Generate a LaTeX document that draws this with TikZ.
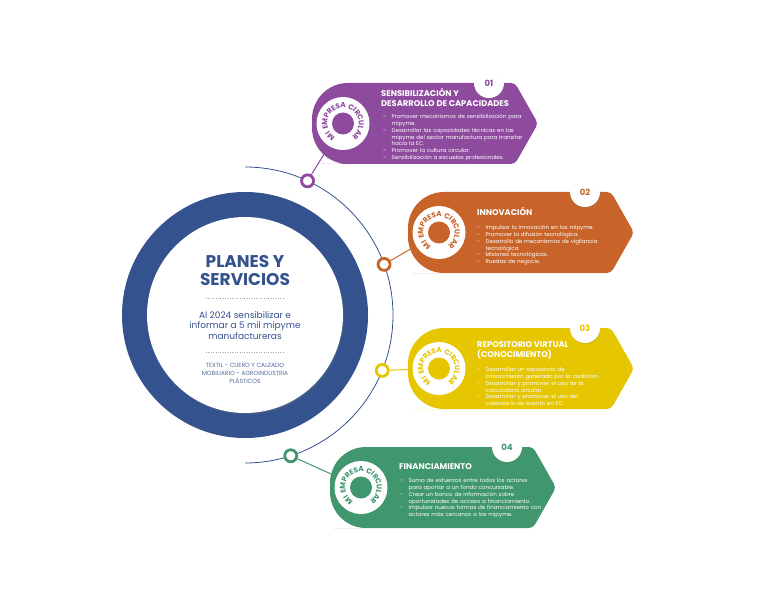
\documentclass[tikz,border=0pt]{standalone}
\usepackage{fontspec}
\setmainfont{Poppins}
\usetikzlibrary{calc,shadows}

\definecolor{planblue}{HTML}{34528E}
\definecolor{cardpurple}{HTML}{8E4B9E}
\definecolor{cardorange}{HTML}{C8642A}
\definecolor{cardyellow}{HTML}{E5C600}
\definecolor{cardgreen}{HTML}{40966E}

\newcommand{\bitem}[1]{\par\noindent\hangindent=8.5pt\hangafter=1\makebox[8.5pt][l]{-}#1\par}

\tikzset{
  ringdot/.style={circle, draw=#1, line width=2.8pt, fill=white, minimum size=12pt, inner sep=0pt},
  numdot/.style={circle, fill=white, minimum size=30pt, inner sep=0pt, text=#1,
    font=\bfseries\fontsize{8.5}{9}\selectfont,
    drop shadow={opacity=0.2, shadow xshift=0.6pt, shadow yshift=-1.2pt}},
  badgeletter/.style={inner sep=0pt, text=#1, font=\bfseries\fontsize{7.3}{7.3}\selectfont},
  cardtitle/.style={anchor=north west, inner sep=0pt, align=left, text=white,
    font=\bfseries\fontsize{8.3}{10}\selectfont},
  cardtext/.style={anchor=north west, inner sep=0pt, text width=170pt, align=left, text=white,
    font=\fontsize{5.5}{6.8}\selectfont},
  link/.style={draw=#1, line width=1pt}
}

\begin{document}
\begin{tikzpicture}[x=1pt,y=1pt]
\useasboundingbox (0,0) rectangle (768,598);

% central disc
\coordinate (c) at (245,283);
\fill[planblue] (c) circle[radius=123];
\node[circle, fill=white, minimum size=196pt, inner sep=0pt,
  drop shadow={opacity=0.25, shadow xshift=1pt, shadow yshift=-1.5pt}] (core) at (c) {};
\draw[planblue, line width=0.8pt] (c) ++(90:148) arc[start angle=90, end angle=-90, radius=148];

% cards
\foreach \n/\col/\xo/\yo/\ang in {1/cardpurple/312/434/65, 2/cardorange/408/325/20,
    3/cardyellow/408/189/-22, 4/cardgreen/330/70/-72}{
  \node[ringdot=\col] (r\n) at ($(c)+(\ang:148)$) {};
  \coordinate (b\n) at (\xo+31,\yo+40.5);
  \draw[link=\col] (r\n) -- (b\n);
  \fill[\col, rounded corners=4pt] (\xo+40,\yo) -- (\xo+203,\yo) -- (\xo+226,\yo+40.5)
    -- (\xo+203,\yo+81) -- (\xo+40,\yo+81) [rounded corners=36pt] -- (\xo,\yo+81)
    -- (\xo,\yo) -- cycle;
  \fill[white] (b\n) circle[radius=26.5];
  \fill[\col] (b\n) circle[radius=11];
  % letters round the badge, spaced by their widths
  \gdef\acc{0}
  \foreach \ch/\w [count=\i] in {M/.93,I/.30,{}/.27,E/.57,M/.93,P/.63,R/.64,E/.57,S/.60,A/.72,
      {}/.27,C/.72,I/.30,R/.64,C/.72,U/.70,L/.50,A/.72,R/.64}{
    \pgfmathsetmacro\a{240-(\acc+(\w*7.3+0.6)/2)/18.3*57.2958}
    \node[badgeletter=\col, rotate=\a-90] (m\n-\i) at ($(b\n)+(\a:18.3)$) {\ch};
    \pgfmathparse{\acc+\w*7.3+0.6}\xdef\acc{\pgfmathresult}
  }
  \node[numdot=\col] (n\n) at (\xo+177,\yo+81) {0\n};
}

% texts of the cards
\node[cardtitle] (t1) at (381,510) {SENSIBILIZACIÓN Y\\DESARROLLO DE CAPACIDADES};
\node[cardtext] (l1) at (383,486.3) {%
  \bitem{Promover mecanismos de sensibilización para\newline mipyme.}
  \bitem{Desarrollar las capacidades técnicas en las\newline mipyme del sector manufactura para transitar\newline hacia la EC.}
  \bitem{Promover la cultura circular.}
  \bitem{Sensibilización a escuelas profesionales.}};

\node[cardtitle] (t2) at (477,391) {INNOVACIÓN};
\node[cardtext] (l2) at (477,375.3) {%
  \bitem{Impulsar la innovación en las mipyme.}
  \bitem{Promover la difusión tecnológica.}
  \bitem{Desarrollo de mecanismos de vigilancia\newline tecnológica.}
  \bitem{Misiones tecnológicas.}
  \bitem{Ruedas de negocio.}};

\node[cardtitle] (t3) at (477,257) {REPOSITORIO VIRTUAL\\(CONOCIMIENTO)};
\node[cardtext] (l3) at (477,233.3) {%
  \bitem{Desarrollar un repositorio de\newline conocimiento generado por la coalición.}
  \bitem{Desarrollar y promover el uso de la\newline calculadora circular.}
  \bitem{Desarrollar y promover el uso del\newline calendario de evento en EC.}};

\node[cardtitle] (t4) at (399,135) {FINANCIAMIENTO};
\node[cardtext] (l4) at (400,122.3) {%
  \bitem{Suma de esfuerzos entre todos los actores\newline para aportar a un fondo concursable.}
  \bitem{Crear un banco de información sobre\newline oportunidades de acceso a financiamiento.}
  \bitem{Impulsar nuevas formas de financiamiento con\newline actores más cercanos a las mipyme.}};

% centre texts
\node[font=\bfseries\fontsize{17}{18}\selectfont, text=planblue, align=center, inner sep=0pt]
  (plan) at (245,327) {PLANES Y\\SERVICIOS};
\draw[dotted, gray!70] (206,300) -- (285,300);
\node[font=\fontsize{9}{10.5}\selectfont, text=planblue, align=center, inner sep=0pt]
  (goal) at (245,272.5) {Al 2024 sensibilizar e\\informar a 5 mil mipyme\\manufactureras};
\draw[dotted, gray!70] (206,246) -- (285,246);
\node[font=\fontsize{6}{8}\selectfont, text=planblue!85, align=center, inner sep=0pt]
  (sectors) at (245,225) {TEXTIL - CUERO Y CALZADO\\MOBILIARIO - AGROINDUSTRIA\\PLÁSTICOS};
\end{tikzpicture}
\end{document}
